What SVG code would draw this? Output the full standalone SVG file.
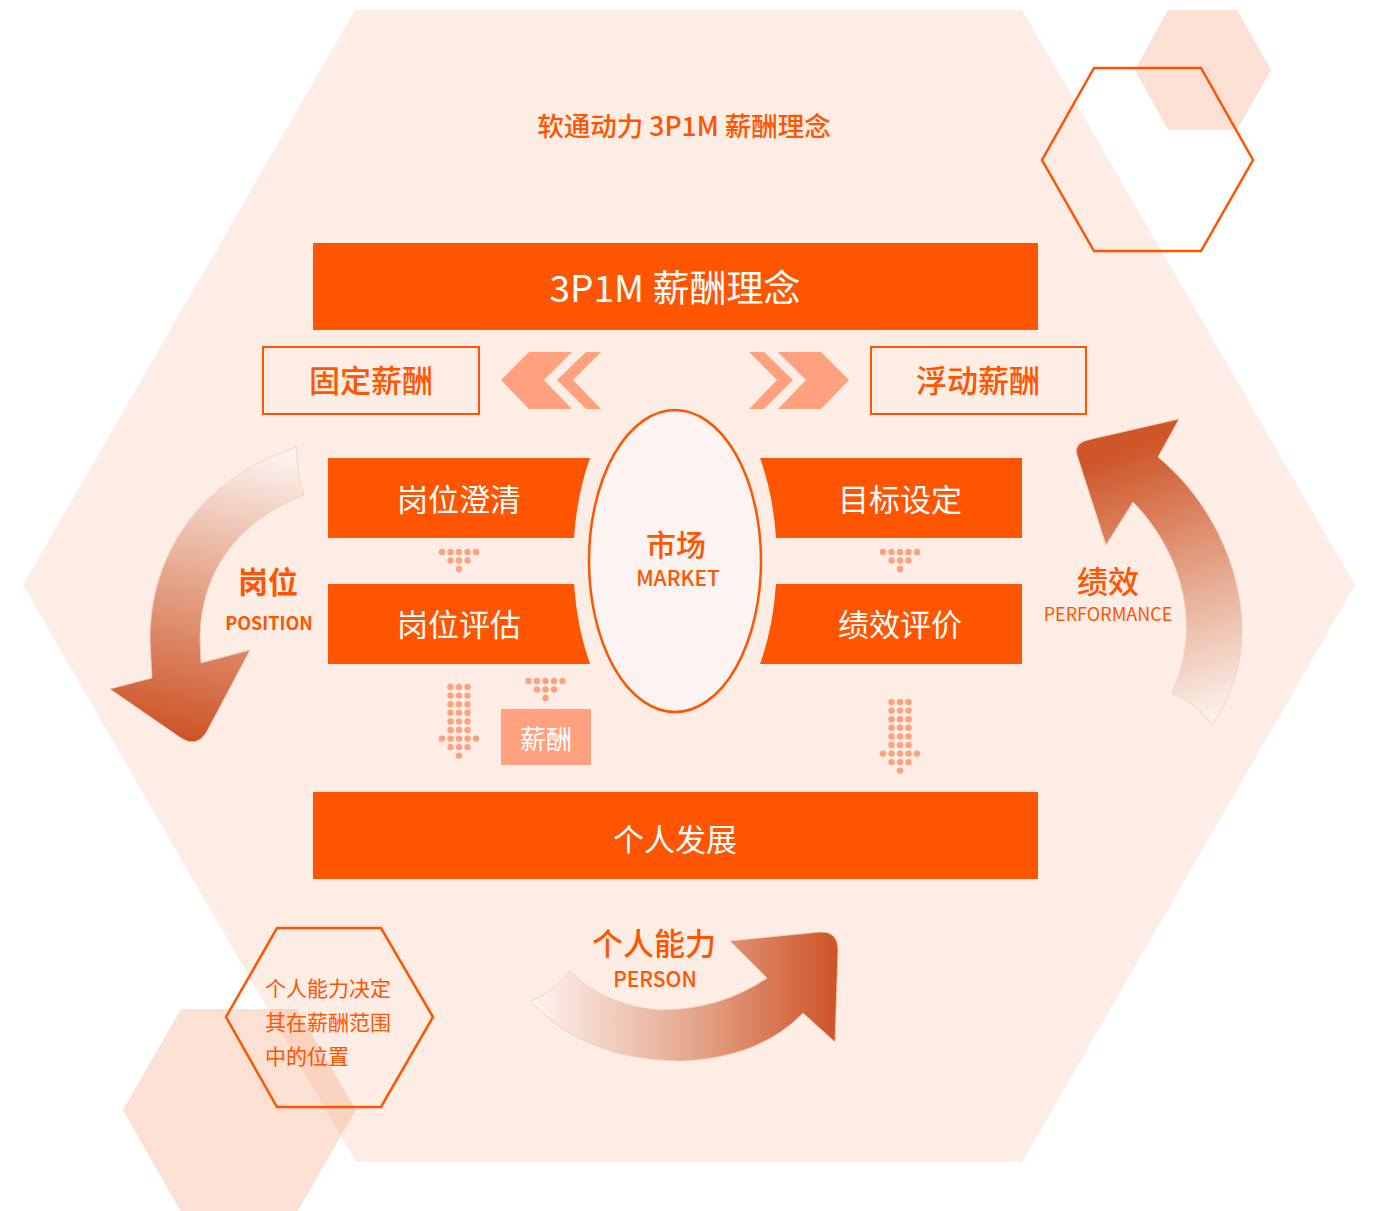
<svg xmlns="http://www.w3.org/2000/svg" xmlns:xlink="http://www.w3.org/1999/xlink" width="1373" height="1211" viewBox="0 0 1373 1211">
<style>
.t{font-family:"Noto Sans CJK SC","Noto Sans",sans-serif;text-anchor:middle;dominant-baseline:central}
.or{fill:#FF5500}
.wh{fill:#FFFFFF}
.bar{fill:#FF5500}
.lt{fill:#FFA07E}
.dot{fill:#FFA07E}
.outline{fill:none;stroke:#FF5500;stroke-width:2.5}
.deco{fill:#F7A27A;fill-opacity:0.33}
</style>
<defs>
<g id="dots-small">
<circle class="dot" cx="-17" cy="0" r="3.2"/><circle class="dot" cx="-8.5" cy="0" r="3.2"/><circle class="dot" cx="0" cy="0" r="3.2"/><circle class="dot" cx="8.5" cy="0" r="3.2"/><circle class="dot" cx="17" cy="0" r="3.2"/>
<circle class="dot" cx="-8.5" cy="8.5" r="3.2"/><circle class="dot" cx="0" cy="8.5" r="3.2"/><circle class="dot" cx="8.5" cy="8.5" r="3.2"/>
<circle class="dot" cx="0" cy="17" r="3.2"/>
</g>
<g id="col3">
<circle class="dot" cx="-8.5" cy="0" r="3.2"/><circle class="dot" cx="0" cy="0" r="3.2"/><circle class="dot" cx="8.5" cy="0" r="3.2"/>
</g>
<g id="dots-long">
<use xlink:href="#col3" y="0"/><use xlink:href="#col3" y="8.6"/><use xlink:href="#col3" y="17.2"/><use xlink:href="#col3" y="25.8"/><use xlink:href="#col3" y="34.4"/><use xlink:href="#col3" y="43"/>
<use xlink:href="#dots-small" y="51.6"/>
</g>
<linearGradient id="gLeft" gradientUnits="userSpaceOnUse" x1="260" y1="450" x2="195" y2="742">
<stop offset="0" stop-color="#FCF2EE"/><stop offset="0.45" stop-color="#E6AA90"/><stop offset="1" stop-color="#CD5326"/>
</linearGradient>
<linearGradient id="gRight" gradientUnits="userSpaceOnUse" x1="1110" y1="440" x2="1210" y2="722">
<stop offset="0.05" stop-color="#CE5628"/><stop offset="0.55" stop-color="#E6AA90"/><stop offset="1" stop-color="#FCF2EE"/>
</linearGradient>
<linearGradient id="gBottom" gradientUnits="userSpaceOnUse" x1="532" y1="0" x2="840" y2="0">
<stop offset="0" stop-color="#FDF3EF"/><stop offset="0.5" stop-color="#E6AA90"/><stop offset="1" stop-color="#CC5226"/>
</linearGradient>
</defs>

<g id="background">
<polygon points="355,10 1022,10 1355,585 1022,1162 356,1162 23,585" fill="#FEEDE5"/>
<polygon class="deco" points="1168,10 1237,10 1271,70 1237,130 1168,130 1135,70"/>
<polygon class="deco" points="181,1009 297,1009 356,1110 297,1212 181,1212 123,1110"/>
<polygon class="outline" points="1094,68 1201,68 1253,160 1201,251 1094,251 1042,160"/>
<polygon class="outline" points="277,928 381,928 433,1017 381,1107 277,1107 226,1017"/>
</g>

<text class="t or" x="684" y="124" font-size="26.5" font-weight="500">软通动力 3P1M 薪酬理念</text>

<g id="node-banner">
<rect class="bar" x="313" y="243" width="725" height="87"/>
<text class="t wh" x="675" y="286" font-size="37">3P1M 薪酬理念</text>
</g>

<g id="node-fixed">
<rect x="263" y="347" width="216" height="67" fill="none" stroke="#FF5500" stroke-width="2"/>
<text class="t or" x="371" y="378" font-size="31" font-weight="500">固定薪酬</text>
</g>
<g id="node-float">
<rect x="871" y="347" width="215" height="67" fill="none" stroke="#FF5500" stroke-width="2"/>
<text class="t or" x="978" y="378" font-size="31" font-weight="500">浮动薪酬</text>
</g>

<g id="chevrons">
<polygon class="lt" points="529,352 572,352 544,380 572,409 529,409 501,380"/>
<polygon class="lt" points="586,352 601,352 573,380 601,409 586,409 557,380"/>
<polygon class="lt" points="821,352 778,352 806,380 778,409 821,409 849,380"/>
<polygon class="lt" points="764,352 749,352 777,380 749,409 764,409 793,380"/>
</g>

<g id="node-gwcq">
<path class="bar" d="M328,458 L590,458 A102,186 0 0 0 574,538 L328,538 Z"/>
<text class="t wh" x="459" y="497" font-size="31">岗位澄清</text>
</g>
<g id="node-gwpg">
<path class="bar" d="M328,584 L574,584 A102,186 0 0 0 590,664 L328,664 Z"/>
<text class="t wh" x="459" y="622" font-size="31">岗位评估</text>
</g>
<g id="node-mbsd">
<path class="bar" d="M1022,458 L760,458 A102,186 0 0 1 776,538 L1022,538 Z"/>
<text class="t wh" x="900" y="497" font-size="31">目标设定</text>
</g>
<g id="node-jxpj">
<path class="bar" d="M1022,584 L776,584 A102,186 0 0 1 760,664 L1022,664 Z"/>
<text class="t wh" x="900" y="622" font-size="31">绩效评价</text>
</g>

<g id="node-market">
<ellipse cx="675" cy="561" rx="86" ry="151" fill="#FDF4F1" stroke="#FF5500" stroke-width="2.5"/>
<text class="t or" x="676" y="543" font-size="30" font-weight="500">市场</text>
<text class="t or" x="678" y="577" font-size="21" font-weight="500">MARKET</text>
</g>

<g id="node-xinchou">
<rect class="lt" x="501" y="709" width="90" height="56"/>
<text class="t wh" x="546" y="737" font-size="26">薪酬</text>
</g>

<g id="node-person-dev">
<rect class="bar" x="313" y="792" width="725" height="87"/>
<text class="t wh" x="675" y="837" font-size="31">个人发展</text>
</g>

<g id="connectors">
<use xlink:href="#dots-small" x="459" y="552"/>
<use xlink:href="#dots-small" x="900" y="552"/>
<use xlink:href="#dots-small" x="545.5" y="681"/>
<use xlink:href="#dots-long" x="459" y="687"/>
<use xlink:href="#dots-long" x="900" y="702"/>
<path d="M297,447 C210,475 150,545 150,640 L152,678 L110,689 L181,738 Q196,748 206,733 L250,650 L201,663 L200,640 C200,570 240,520 304,495 Q296,472 297,447 Z" fill="url(#gLeft)" stroke="#F8C9B4" stroke-width="0.8"/>
<path d="M1179,419 L1158,457 C1208,498 1242,565 1242,630 Q1242,682 1212,725 Q1196,702 1172,693 Q1183,670 1186,640 C1190,590 1170,540 1133,502 L1106,545 L1077,455 Q1073,442 1092,439 Z" fill="url(#gRight)" stroke="#F8C9B4" stroke-width="0.8"/>
<path d="M530,1001 Q585,1060 680,1061 Q760,1058 803,1013 L835,1042 L838,950 Q838,931 820,932 L730,941 L767,978 Q720,1010 660,1010 Q605,1006 570,971 Q555,992 530,1001 Z" fill="url(#gBottom)" stroke="#F8C9B4" stroke-width="0.8"/>
</g>

<g id="label-position">
<text class="t or" x="268" y="580" font-size="30" font-weight="bold">岗位</text>
<text class="t or" x="269" y="622" font-size="18" font-weight="bold">POSITION</text>
</g>
<g id="label-performance">
<text class="t or" x="1108" y="579" font-size="31" font-weight="500">绩效</text>
<text class="t or" x="1108" y="613" font-size="18">PERFORMANCE</text>
</g>
<g id="label-person">
<text class="t or" x="654" y="941" font-size="31" font-weight="500">个人能力</text>
<text class="t or" x="655" y="978" font-size="21" font-weight="500">PERSON</text>
</g>
<g id="note">
<text class="t or" x="265" y="987" font-size="21" style="text-anchor:start">个人能力决定</text>
<text class="t or" x="265" y="1021" font-size="21" style="text-anchor:start">其在薪酬范围</text>
<text class="t or" x="265" y="1055" font-size="21" style="text-anchor:start">中的位置</text>
</g>
</svg>
